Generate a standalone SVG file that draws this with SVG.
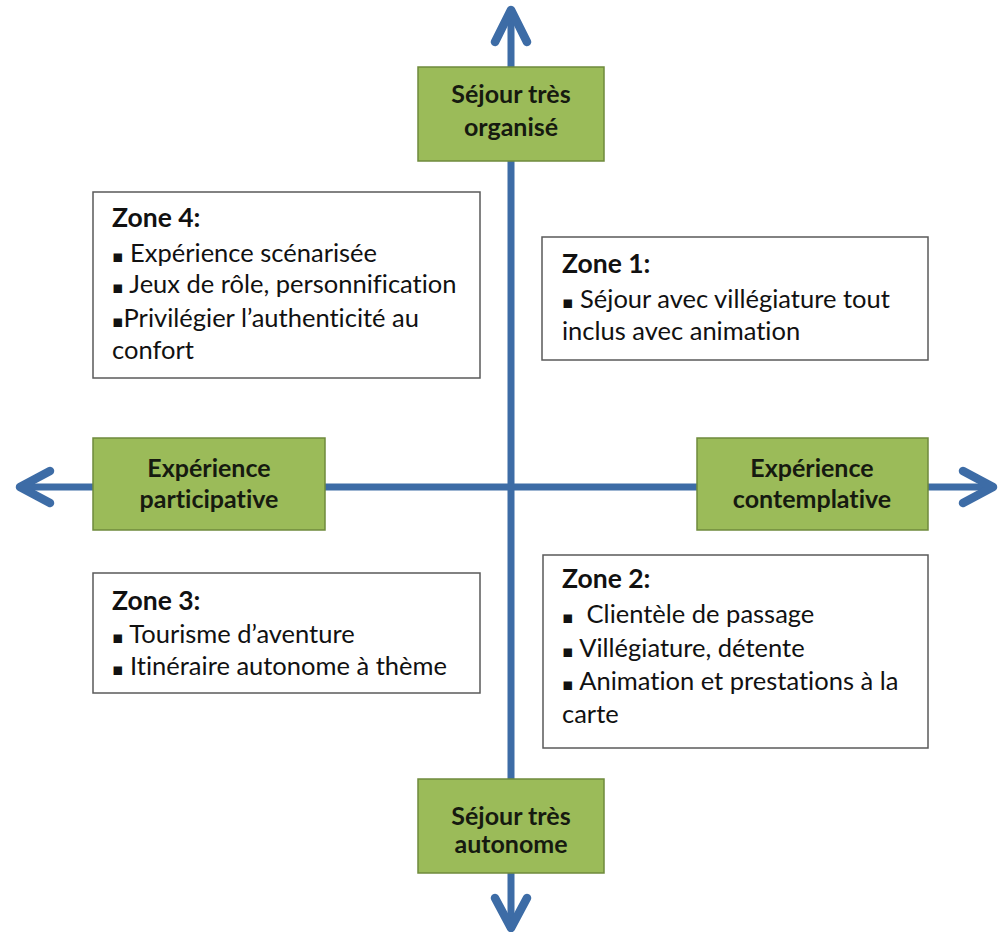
<svg xmlns="http://www.w3.org/2000/svg" width="1001" height="932" viewBox="0 0 1001 932">
<style>
.axis{stroke:#3d6ca6;stroke-width:7;fill:none;stroke-linecap:round;stroke-linejoin:round}
.head{stroke-width:8.5}
.gbox{fill:#9bbb59;stroke:#6f8a3c;stroke-width:1.5}
.gtxt{font-family:Lato,"Open Sans",sans-serif;font-weight:bold;font-size:25px;fill:#161a10;text-anchor:middle;font-variant-ligatures:none}
.zbox{fill:#ffffff;stroke:#5a5a5a;stroke-width:1.5}
.ztxt{font-family:Lato,"Open Sans",sans-serif;font-size:25.5px;fill:#111;font-variant-ligatures:none}
.zt{font-weight:bold;font-size:26.5px}
.b{font-family:"DejaVu Sans",sans-serif;font-size:17px}
</style>
<rect width="1001" height="932" fill="#ffffff"/>
<g id="connectors">
<line class="axis" x1="511" y1="10" x2="511" y2="928"/>
<line class="axis" x1="20" y1="487" x2="993" y2="487"/>
<polyline class="axis head" points="495,42 511,10 527,42"/>
<polyline class="axis head" points="495,898 511,928 527,898"/>
<polyline class="axis head" points="50,471 20,487 50,503"/>
<polyline class="axis head" points="963,471 993,487 963,503"/>
</g>
<g id="node-top">
<rect class="gbox" x="418" y="67" width="186" height="94"/>
<text class="gtxt" x="511" y="103">Séjour très</text>
<text class="gtxt" x="511" y="136">organisé</text>
</g>
<g id="node-bottom">
<rect class="gbox" x="418" y="779" width="186" height="94"/>
<text class="gtxt" x="511" y="825">Séjour très</text>
<text class="gtxt" x="511" y="853">autonome</text>
</g>
<g id="node-left">
<rect class="gbox" x="93" y="438" width="232" height="92"/>
<text class="gtxt" x="209" y="477">Expérience</text>
<text class="gtxt" x="209" y="508">participative</text>
</g>
<g id="node-right">
<rect class="gbox" x="697" y="438" width="231" height="92"/>
<text class="gtxt" x="812" y="477">Expérience</text>
<text class="gtxt" x="812" y="508">contemplative</text>
</g>
<g id="zone4">
<rect class="zbox" x="93" y="192" width="387" height="186"/>
<text class="ztxt" x="112" y="227"><tspan class="zt">Zone 4:</tspan></text>
<text class="ztxt" x="112" y="262"><tspan class="b">▪</tspan> Expérience scénarisée</text>
<text class="ztxt" x="112" y="293"><tspan class="b">▪</tspan> Jeux de rôle, personnification</text>
<text class="ztxt" x="112" y="327"><tspan class="b">▪</tspan>Privilégier l’authenticité au</text>
<text class="ztxt" x="112" y="359">confort</text>
</g>
<g id="zone1">
<rect class="zbox" x="542" y="237" width="386" height="123"/>
<text class="ztxt" x="562" y="273"><tspan class="zt">Zone 1:</tspan></text>
<text class="ztxt" x="562" y="308"><tspan class="b">▪</tspan> Séjour avec villégiature tout</text>
<text class="ztxt" x="562" y="340">inclus avec animation</text>
</g>
<g id="zone3">
<rect class="zbox" x="93" y="573" width="387" height="120"/>
<text class="ztxt" x="112" y="610"><tspan class="zt">Zone 3:</tspan></text>
<text class="ztxt" x="112" y="643"><tspan class="b">▪</tspan> Tourisme d’aventure</text>
<text class="ztxt" x="112" y="675"><tspan class="b">▪</tspan> Itinéraire autonome à thème</text>
</g>
<g id="zone2">
<rect class="zbox" x="543" y="555" width="385" height="193"/>
<text class="ztxt" x="562" y="588"><tspan class="zt">Zone 2:</tspan></text>
<text class="ztxt" x="562" y="623" xml:space="preserve"><tspan class="b">▪</tspan>  Clientèle de passage</text>
<text class="ztxt" x="562" y="657"><tspan class="b">▪</tspan> Villégiature, détente</text>
<text class="ztxt" x="562" y="690"><tspan class="b">▪</tspan> Animation et prestations à la</text>
<text class="ztxt" x="562" y="723">carte</text>
</g>
</svg>
